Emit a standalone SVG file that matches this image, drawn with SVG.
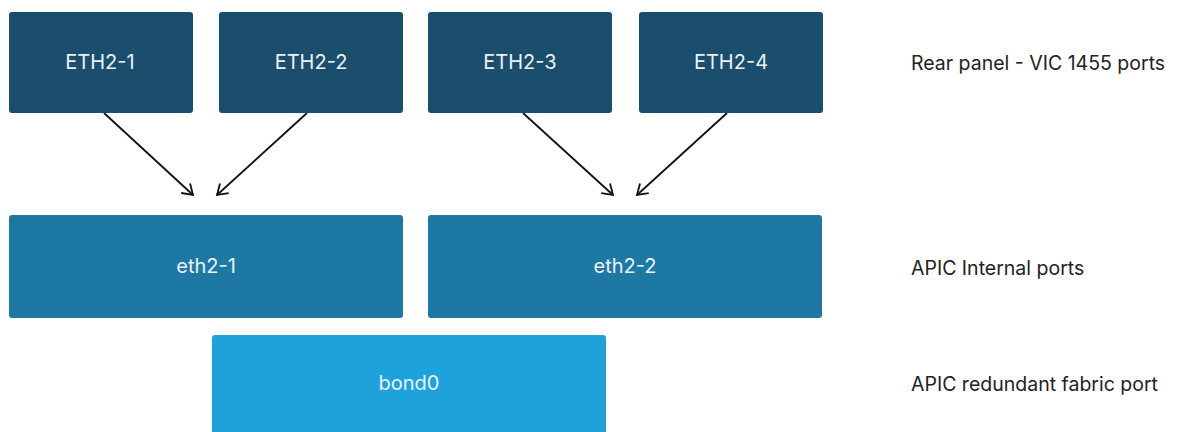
<svg xmlns="http://www.w3.org/2000/svg" width="1184" height="432" viewBox="0 0 1184 432">
<style>
.box{stroke:none}
.top{fill:#1b4d6d}
.mid{fill:#1e78a4}
.bond{fill:#1fa2db}
.t{font-family:Inter,"Liberation Sans",sans-serif;font-size:20px;fill:#eaf2f7;text-anchor:middle;dominant-baseline:central}
.lbl{font-family:Inter,"Liberation Sans",sans-serif;font-size:19.5px;fill:#222}
.c{stroke:#111;stroke-width:1.8;fill:none;marker-end:url(#ah)}
</style>
<defs>
<marker id="ah" markerWidth="16" markerHeight="16" refX="12" refY="8" orient="auto" markerUnits="userSpaceOnUse">
<path d="M2,1.5 L12,8 L2,14.5" fill="none" stroke="#111" stroke-width="1.8"/>
</marker>
</defs>
<rect width="1184" height="432" fill="#fff"/>
<g id="connectors">
<line class="c" x1="104" y1="113" x2="193" y2="195"/>
<line class="c" x1="307" y1="113" x2="217" y2="195"/>
<line class="c" x1="523" y1="113" x2="613" y2="195"/>
<line class="c" x1="727" y1="113" x2="637" y2="195"/>
</g>
<g id="ETH2-1"><rect class="box top" x="9" y="12" width="184" height="101" rx="3"/><text class="t" x="100" y="62">ETH2-1</text></g>
<g id="ETH2-2"><rect class="box top" x="219" y="12" width="184" height="101" rx="3"/><text class="t" x="311" y="62">ETH2-2</text></g>
<g id="ETH2-3"><rect class="box top" x="428" y="12" width="184" height="101" rx="3"/><text class="t" x="520" y="62">ETH2-3</text></g>
<g id="ETH2-4"><rect class="box top" x="639" y="12" width="184" height="101" rx="3"/><text class="t" x="731" y="62">ETH2-4</text></g>
<g id="eth2-1"><rect class="box mid" x="9" y="215" width="394" height="103" rx="3"/><text class="t" x="206" y="266">eth2-1</text></g>
<g id="eth2-2"><rect class="box mid" x="428" y="215" width="394" height="103" rx="3"/><text class="t" x="625" y="266">eth2-2</text></g>
<g id="bond0"><rect class="box bond" x="212" y="335" width="394" height="110" rx="3"/><text class="t" x="409" y="383">bond0</text></g>
<g id="labels">
<text class="lbl" x="911" y="70">Rear panel - VIC 1455 ports</text>
<text class="lbl" x="911" y="275">APIC Internal ports</text>
<text class="lbl" x="911" y="391">APIC redundant fabric port</text>
</g>
</svg>
